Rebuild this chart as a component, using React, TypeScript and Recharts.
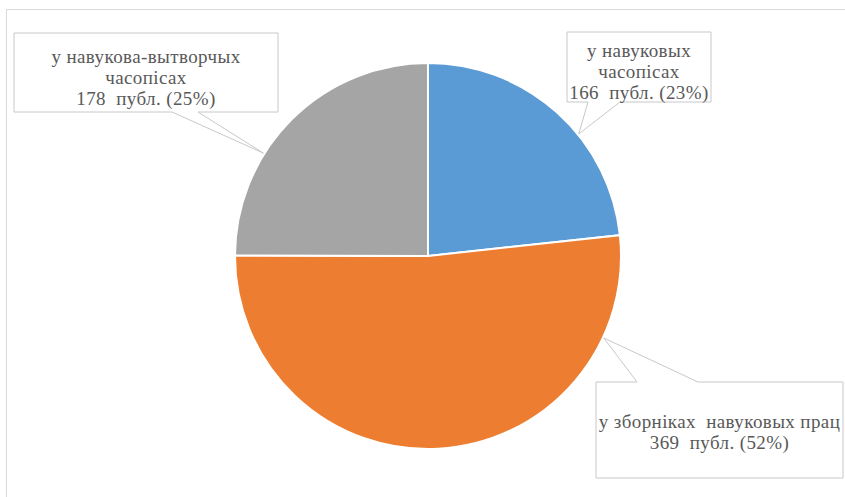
import { PieChart, Pie, Cell } from "recharts"

const categories = [
  ["у навуковых", "часопісах"],
  ["у зборніках  навуковых прац"],
  ["у навукова-вытворчых", "часопісах"],
]
const counts = [166, 369, 178]
const percents = ["23%", "52%", "25%"]

const COLORS = ["#5B9BD5", "#ED7D31", "#A5A5A5"]
const FONT = "'Liberation Serif', 'DejaVu Serif', serif"

// callout boxes: rect, tail base on top/bottom edge, angle of the tip on the rim
const CALLOUTS = [
  { x0: 567, y0: 32, x1: 711, y1: 102, edge: "bottom", a: 588, b: 620, tipAngle: 39, lineY: [50, 71, 92] },
  { x0: 596, y0: 382, x1: 843, y1: 478, edge: "top", a: 637, b: 698, tipAngle: -25, lineY: [421, 442] },
  { x0: 14, y0: 33, x1: 278, y1: 112, edge: "bottom", a: 172, b: 198, tipAngle: 148, lineY: [56, 77, 98] },
]

const data = categories.map((c, i) => ({
  name: c.join(" "),
  lines: [...c, `${counts[i]}  публ. (${percents[i]})`],
  value: counts[i],
}))

const RAD = Math.PI / 180

function renderLabel(props: any) {
  const { cx, cy, outerRadius, index } = props
  const c = CALLOUTS[index]
  const tx = cx + (outerRadius + 1) * Math.cos(c.tipAngle * RAD)
  const ty = cy - (outerRadius + 1) * Math.sin(c.tipAngle * RAD)
  const d =
    c.edge === "bottom"
      ? `M${c.x0},${c.y0} H${c.x1} V${c.y1} H${c.b} L${tx},${ty} L${c.a},${c.y1} H${c.x0} Z`
      : `M${c.x0},${c.y0} H${c.a} L${tx},${ty} L${c.b},${c.y0} H${c.x1} V${c.y1} H${c.x0} Z`
  const mx = (c.x0 + c.x1) / 2
  return (
    <g key={`callout-${index}`}>
      <path d={d} fill="#fff" stroke="#C8C8C8" strokeWidth={1} />
      {data[index].lines.map((t, j) => (
        <text
          key={j}
          x={mx}
          y={c.lineY[j]}
          textAnchor="middle"
          dominantBaseline="central"
          fill="#595959"
          style={{ whiteSpace: "pre", fontFamily: FONT, fontSize: 19, letterSpacing: 0.4 }}
        >
          {t}
        </text>
      ))}
    </g>
  )
}

export default function App() {
  return (
    <div style={{ position: "absolute", left: 0, top: 0, width: 845, height: 497, overflow: "hidden", background: "#fff" }}>
      <div style={{ position: "absolute", left: 6, top: 9, width: 860, height: 520, border: "1px solid #D9D9D9" }} />
      <div style={{ position: "absolute", left: 0, top: 0 }}>
        <PieChart width={845} height={497} margin={{ top: 0, right: 0, bottom: 0, left: 0 }}>
          <Pie
            data={data}
            dataKey="value"
            cx={428}
            cy={256}
            outerRadius={193}
            startAngle={90}
            endAngle={-270}
            stroke="#fff"
            strokeWidth={2}
            label={renderLabel}
            labelLine={false}
            isAnimationActive={false}
          >
            {data.map((_, i) => (
              <Cell key={i} fill={COLORS[i]} />
            ))}
          </Pie>
        </PieChart>
      </div>
    </div>
  )
}
